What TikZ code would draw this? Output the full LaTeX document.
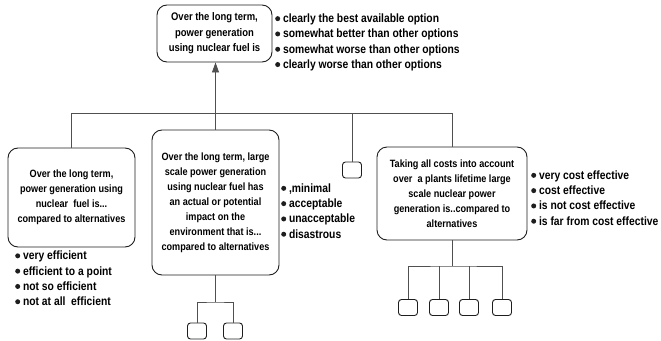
\documentclass[tikz,border=0pt]{standalone}
\usepackage{fontspec}
\setmainfont{Liberation Sans}[FakeStretch=0.86]
\usetikzlibrary{arrows.meta,positioning}
\definecolor{ink}{HTML}{1E1E1E}
\definecolor{wire}{HTML}{505050}
\newcommand{\bul}{\tikz[baseline=-4pt]\fill[ink] (0,0) circle (2.5pt);\ }

\begin{document}
\begin{tikzpicture}[x=1pt,y=-1pt,
  every node/.style={font=\bfseries,align=center,inner sep=0pt},
  qbox/.style={draw=ink,line width=0.9pt,rounded corners=10pt,fill=white},
  leaf/.style={draw=ink,line width=0.9pt,rounded corners=3pt,minimum width=19pt,minimum height=16pt},
  opts/.style={align=left,anchor=west,font=\bfseries\fontsize{12}{15.3}\selectfont},
  boxtext/.style={font=\bfseries\fontsize{10.6}{15}\selectfont},
  wire/.style={draw=wire,line width=0.8pt},
  arrow/.style={wire,-{Triangle[length=10pt,width=7pt]}}
]
\useasboundingbox (0,0) rectangle (661,340);

% question boxes
\node[qbox,minimum width=115pt,minimum height=57pt,font=\bfseries\fontsize{11}{15.5}\selectfont] (top) at (214.5,33.5)
  {Over the long term,\\power generation\\using nuclear fuel is};
\node[qbox,boxtext,minimum width=127pt,minimum height=99pt] (eff) at (71.5,197.5)
  {Over the long term,\\power generation using\\nuclear\ \ fuel is...\\compared to alternatives};
\node[qbox,boxtext,minimum width=127pt,minimum height=145pt] (env) at (215.5,202.5)
  {Over the long term, large\\scale power generation\\using nuclear fuel has\\an actual or potential\\impact on the\\environment that is...\\compared to alternatives};
\node[leaf] (spare) at (352,170) {};
\node[qbox,boxtext,minimum width=150pt,minimum height=93pt] (cost) at (452,193.5)
  {Taking all costs into account\\over\ \ a plants lifetime large\\scale nuclear power\\generation is..compared to\\alternatives};

% leaves
\node[leaf] (enva) at (197,331) {};
\node[leaf] (envb) at (233,331) {};
\node[leaf] (costa) at (408,307.5) {};
\node[leaf] (costb) at (439,307.5) {};
\node[leaf] (costc) at (469,307.5) {};
\node[leaf] (costd) at (502,307.5) {};

% answer lists
\node[opts] (topopts) at (275,42.5) {\bul clearly the best available option\\\bul somewhat better than other options\\\bul somewhat worse than other options\\\bul clearly worse than other options};
\node[opts] (effopts) at (15,278.5) {\bul very efficient\\\bul efficient to a point\\\bul not so efficient\\\bul not at all\ \ efficient};
\node[opts] (envopts) at (281,211) {\bul ,minimal\\\bul acceptable\\\bul unacceptable\\\bul disastrous};
\node[opts] (costopts) at (531,198) {\bul very cost effective\\\bul cost effective\\\bul is not cost effective\\\bul is far from cost effective};

% connectors
\coordinate (bus) at (0,113);
\coordinate (envfork) at (215.5,302);
\coordinate (costfork) at (452,266);
\draw[wire] (eff.north) |- (bus -| cost.north) -- (cost.north);
\draw[wire] (env.north) -- (env.north |- bus);
\draw[wire] (spare.north) -- (spare.north |- bus);
\draw[arrow] (env.north |- bus) -- (env.north |- top.south);
\draw[wire] (env.south) -- (envfork);
\draw[wire] (enva.north) |- (envfork) -| (envb.north);
\draw[wire] (cost.south) -- (costfork);
\draw[wire] (costa.north) |- (costfork) -| (costd.north);
\draw[wire] (costb.north) -- (costb.north |- costfork);
\draw[wire] (costc.north) -- (costc.north |- costfork);
\end{tikzpicture}
\end{document}
